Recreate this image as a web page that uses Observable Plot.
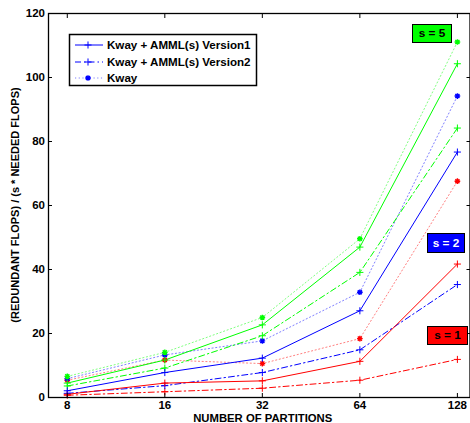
<!DOCTYPE html>
<html>
<head>
<meta charset="utf-8">
<script src="https://cdn.jsdelivr.net/npm/d3@7"></script>
<script src="https://cdn.jsdelivr.net/npm/@observablehq/plot@0.6"></script>
<style>
  html, body { margin: 0; padding: 0; background: #fff; }
  #chart { position: relative; width: 470px; height: 423px; }
  svg { font-family: "Liberation Sans", Arial, sans-serif; }
</style>
</head>
<body>
<div id="chart"></div>
<script>
// ---- data ----
const partitions = [8, 16, 32, 64, 128];

// s = 1 (red)
const s1Version1 = [1.0, 4.5, 5.2, 11.3, 41.7];
const s1Version2 = [0.7, 1.8, 2.9, 5.4, 11.9];
const s1Kway     = [5.4, 11.7, 10.6, 18.4, 67.6];
// s = 2 (blue)
const s2Version1 = [2.1, 7.8, 12.3, 27.1, 76.7];
const s2Version2 = [1.3, 3.7, 7.8, 14.9, 35.3];
const s2Kway     = [5.9, 13.3, 17.7, 32.9, 94.2];
// s = 5 (green)
const s5Version1 = [4.5, 11.7, 22.7, 47.0, 104.3];
const s5Version2 = [3.6, 9.2, 19.3, 39.1, 84.2];
const s5Kway     = [6.6, 14.1, 25.0, 49.6, 111.1];

const yTicks = [0, 20, 40, 60, 80, 100, 120];
const legendLabels = ["Kway + AMML(s) Version1", "Kway + AMML(s) Version2", "Kway"];
const sLabels = ["s = 1", "s = 2", "s = 5"];
const sColors = ["#ff0000", "#0000ff", "#00ff00"];

// ---- build long table ----
const series = [
  {s: 1, kind: "v1", vals: s1Version1}, {s: 1, kind: "v2", vals: s1Version2}, {s: 1, kind: "kway", vals: s1Kway},
  {s: 2, kind: "v1", vals: s2Version1}, {s: 2, kind: "v2", vals: s2Version2}, {s: 2, kind: "kway", vals: s2Kway},
  {s: 5, kind: "v1", vals: s5Version1}, {s: 5, kind: "v2", vals: s5Version2}, {s: 5, kind: "kway", vals: s5Kway}
];
const colorOf = {1: sColors[0], 2: sColors[1], 5: sColors[2]};
const rows = [];
for (const sr of series) {
  sr.vals.forEach((v, i) => rows.push({x: partitions[i], y: v, s: sr.s, kind: sr.kind, key: sr.s + sr.kind, color: colorOf[sr.s]}));
}
const byKind = k => rows.filter(d => d.kind === k);

// ---- symbols ----
const plusSym = {draw(ctx, size) {
  const r = Math.sqrt(size) / 2;
  ctx.moveTo(-r, 0); ctx.lineTo(r, 0); ctx.moveTo(0, -r); ctx.lineTo(0, r);
}};
const starSym = {draw(ctx, size) {
  const r = Math.sqrt(size) / 2;
  const d = r * 0.72;
  ctx.moveTo(-r, 0); ctx.lineTo(r, 0); ctx.moveTo(0, -r); ctx.lineTo(0, r);
  ctx.moveTo(-d, -d); ctx.lineTo(d, d); ctx.moveTo(-d, d); ctx.lineTo(d, -d);
}};

const dashV2 = "6,3,1.5,3";
const dotK = "1.2,2.5";

const W = 470, H = 423;
const mL = 48, mR = 0.5, mT = 13, mB = 26;

const chart = Plot.plot({
  width: W, height: H,
  marginLeft: mL, marginRight: mR, marginTop: mT, marginBottom: mB,
  style: {fontFamily: "Liberation Sans, Arial, sans-serif", fontSize: "11.5px", fontWeight: "bold", color: "black", background: "white"},
  x: {type: "log", base: 2, domain: [7, 140], label: null},
  y: {domain: [0, 120], label: null},
  color: {type: "identity"},
  marks: [
    Plot.line(byKind("kway"), {x: "x", y: "y", z: "key", stroke: "color", strokeWidth: 1, strokeDasharray: dotK, strokeOpacity: 0.5}),
    Plot.line(byKind("v2"), {x: "x", y: "y", z: "key", stroke: "color", strokeWidth: 1, strokeDasharray: dashV2}),
    Plot.line(byKind("v1"), {x: "x", y: "y", z: "key", stroke: "color", strokeWidth: 1}),
    Plot.dot(byKind("kway"), {x: "x", y: "y", stroke: "color", fill: "none", symbol: starSym, r: 3.2, strokeWidth: 1.4}),
    Plot.dot(byKind("v2"), {x: "x", y: "y", stroke: "color", fill: "none", symbol: plusSym, r: 4, strokeWidth: 1}),
    Plot.dot(byKind("v1"), {x: "x", y: "y", stroke: "color", fill: "none", symbol: plusSym, r: 4, strokeWidth: 1}),
    Plot.frame({stroke: "black", strokeWidth: 1.3}),
    // inward ticks
    Plot.axisX({ticks: partitions, tickSize: -4, tickFormat: () => "", strokeWidth: 1}),
    Plot.axisX({anchor: "top", ticks: partitions, tickSize: -4, tickFormat: () => "", strokeWidth: 1}),
    Plot.axisY({ticks: yTicks, tickSize: -4, tickFormat: () => "", strokeWidth: 1}),
    Plot.axisY({anchor: "right", ticks: yTicks, tickSize: -4, tickFormat: () => "", strokeWidth: 1}),
    // labels
    Plot.axisX({ticks: partitions, tickSize: 0, tickPadding: 3, tickFormat: d => String(d), fontSize: 11.5, fontWeight: "bold", label: null}),
    Plot.axisY({ticks: yTicks, tickSize: 0, tickPadding: 3.5, tickFormat: d => String(d), fontSize: 11.5, fontWeight: "bold", label: null})
  ]
});

document.getElementById("chart").appendChild(chart);

// ---- overlay texts: axis titles, legend, s-labels ----
const svg = d3.select(chart);
const plotLeft = mL, plotRight = W - mR, plotTop = mT, plotBottom = H - mB;

svg.append("text")
  .attr("x", (plotLeft + plotRight) / 2 + 4).attr("y", 422)
  .attr("text-anchor", "middle").attr("font-size", 11.3).attr("font-weight", "bold")
  .text("NUMBER OF PARTITIONS");

svg.append("text")
  .attr("transform", `translate(18.5,${(plotTop + plotBottom) / 2}) rotate(-90)`)
  .attr("text-anchor", "middle").attr("font-size", 11).attr("font-weight", "bold")
  .text("(REDUNDANT FLOPS) / (s * NEEDED FLOPS)");

// legend
const lg = svg.append("g");
lg.append("rect").attr("x", 69.5).attr("y", 34.5).attr("width", 187).attr("height", 51)
  .attr("fill", "white").attr("stroke", "black").attr("stroke-width", 1.5);
const legY = [45, 62, 78];
const legDash = [null, dashV2, dotK];
legendLabels.forEach((lab, i) => {
  const g = lg.append("g");
  g.append("line").attr("x1", 75).attr("x2", 103).attr("y1", legY[i]).attr("y2", legY[i])
    .attr("stroke", "#0000ff").attr("stroke-width", 1)
    .attr("stroke-dasharray", legDash[i]).attr("stroke-opacity", i === 2 ? 0.5 : 1);
  const cx = 88, cy = legY[i];
  const p = d3.path();
  (i === 2 ? starSym : plusSym).draw(p, i === 2 ? Math.PI * 3.2 * 3.2 : Math.PI * 16);
  g.append("path").attr("d", p.toString()).attr("transform", `translate(${cx},${cy})`)
    .attr("fill", "none").attr("stroke", "#0000ff").attr("stroke-width", i === 2 ? 1.4 : 1);
  g.append("text").attr("x", 107).attr("y", cy + 4).attr("text-anchor", "start")
    .attr("font-size", 11.6).attr("font-weight", "bold").text(lab);
});

// s labels
const boxes = [
  {label: sLabels[2], x: 412, y: 24, w: 39, h: 18, fill: sColors[2], text: "black"},
  {label: sLabels[1], x: 427, y: 233, w: 37, h: 19, fill: sColors[1], text: "white"},
  {label: sLabels[0], x: 427, y: 326, w: 40, h: 18, fill: sColors[0], text: "black"}
];
boxes.forEach(b => {
  svg.append("rect").attr("x", b.x + 0.5).attr("y", b.y + 0.5).attr("width", b.w).attr("height", b.h)
    .attr("fill", b.fill).attr("stroke", "black").attr("stroke-width", 1);
  svg.append("text").attr("x", b.x + b.w / 2 + 0.5).attr("y", b.y + b.h / 2 + 4.3)
    .attr("text-anchor", "middle").attr("font-size", 11.8).attr("font-weight", "bold")
    .attr("fill", b.text).text(b.label);
});
</script>
</body>
</html>
